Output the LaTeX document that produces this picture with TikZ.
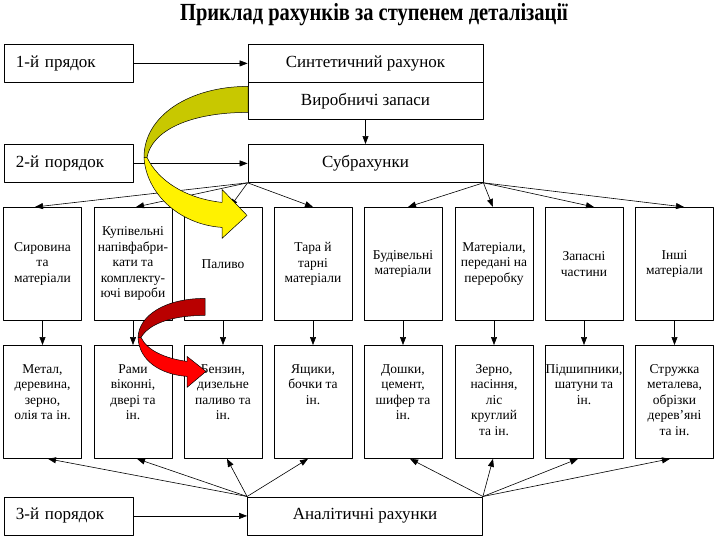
\documentclass[tikz,border=0pt]{standalone}
\usepackage{fontspec}
\setmainfont{Liberation Serif}
\usetikzlibrary{arrows.meta,positioning}
\definecolor{olivey}{RGB}{200,200,0}
\definecolor{backred}{RGB}{185,0,0}
\begin{document}
\begin{tikzpicture}[x=1pt,y=-1pt,>={Triangle[length=8pt,width=6pt]},line join=round,line width=.6pt,
  box/.style={draw,line width=.8pt,inner sep=0pt,font=\fontsize{17}{20}\selectfont},
  lvl/.style={box,minimum width=129pt,minimum height=38pt,text width=105pt,inner xsep=12pt,align=left},
  wide/.style={box,minimum width=235pt,minimum height=38pt},
  cell/.style={draw,line width=.8pt,minimum width=78pt,minimum height=113pt,inner sep=0pt,align=center,font=\fontsize{13.5}{15.5}\selectfont},
  txt/.style={align=center,inner sep=0pt,font=\fontsize{13.5}{15.5}\selectfont}]
\path[fill=white] (0,0) rectangle (720,540);
\node[font=\fontsize{20.5}{22}\selectfont\bfseries,anchor=base] (title) at (374,20) {\scalebox{1}[1.2]{Приклад рахунків за ступенем деталізації}};
% рівні
\node[lvl] (ord1) at (68.5,63) {1-й прядок};
\node[wide] (syn) at (365.5,63) {Синтетичний рахунок};
\node[wide,minimum height=37pt] (stock) at (365.5,100.5) {Виробничі запаси};
\node[lvl] (ord2) at (68.5,163) {2-й порядок};
\node[wide] (sub) at (365.5,163) {Субрахунки};
\node[lvl] (ord3) at (68.5,515.5) {3-й порядок};
\node[wide] (ana) at (365,515.5) {Аналітичні рахунки};
\foreach \x/\t [count=\i] in {42.5/{Сировина\\та\\матеріали},133/{Купівельні\\напівфабри-\\кати та\\комплекту-\\ючі вироби},223/Паливо,313/{Тара й\\тарні\\матеріали},403/{Будівельні\\матеріали},494/{Матеріали,\\передані на\\переробку},584/{Запасні\\частини},674.5/{Інші\\матеріали}}
  \node[cell] (t\i) at (\x,263.5) {\t};
\foreach \x/\t [count=\i] in {42.5/{Метал,\\деревина,\\зерно,\\олія та ін.},133/{Рами\\віконні,\\двері та\\ін.},223/{Бензин,\\дизельне\\паливо та\\ін.},313/{Ящики,\\бочки та\\ін.},403/{Дошки,\\цемент,\\шифер та\\ін.},494/{Зерно,\\насіння,\\ліс\\круглий\\та ін.},584/{Підшипники,\\шатуни та\\ін.},674.5/{Стружка\\металева,\\обрізки\\дерев’яні\\та ін.}}{
  \node[cell] (b\i) at (\x,401.5) {};
  \node[txt,below=19pt of b\i.north] (bt\i) {\t};
}
% зв'язки
\draw[->] (ord1) -- (syn);
\draw[->] (stock) -- (sub);
\draw[->] (ord2) -- (sub);
\draw[->] (ord3) -- (ana);
\foreach \i/\dx in {1/-7.5,2/3,3/7,4/0} \draw[->] (sub.south west) -- ([xshift=\dx pt]t\i.north);
\foreach \i/\dx in {5/5,6/-1,7/10,8/9.5} \draw[->] (sub.south east) -- ([xshift=\dx pt]t\i.north);
\foreach \i in {1,...,8} \draw[->] (t\i) -- (b\i);
\foreach \i/\dx in {1/5.5,2/4,3/4,4/-5} \draw[->] (ana.north west) -- ([xshift=\dx pt]b\i.south);
\foreach \i/\dx in {5/7,6/-1,7/-6,8/-4.5} \draw[->] (ana.north east) -- ([xshift=\dx pt]b\i.south);
% стрілки
\filldraw[fill=olivey,line width=.5pt] (248,86) .. controls (190,86) and (144,115) .. (144,157) -- (147,157) .. controls (152,130) and (190,112) .. (248,112) -- cycle;
\filldraw[fill=yellow,line width=.5pt] (144,157) .. controls (146,192) and (178,224) .. (222,227) -- (222,238) -- (247,215) -- (222,189) -- (222,202) .. controls (185,198) and (158,180) .. (147,157) -- cycle;
\filldraw[fill=backred,line width=.5pt] (205,298) .. controls (165,298) and (139,315) .. (138,337) -- (141,337) .. controls (150,322) and (175,315) .. (205,315) -- cycle;
\filldraw[fill=red,line width=.5pt] (138,337) .. controls (139,360) and (160,374) .. (187,376) -- (187,387) -- (206,371) -- (187,356) -- (187,361) .. controls (165,358) and (147,350) .. (141,337) -- cycle;
\end{tikzpicture}
\end{document}
